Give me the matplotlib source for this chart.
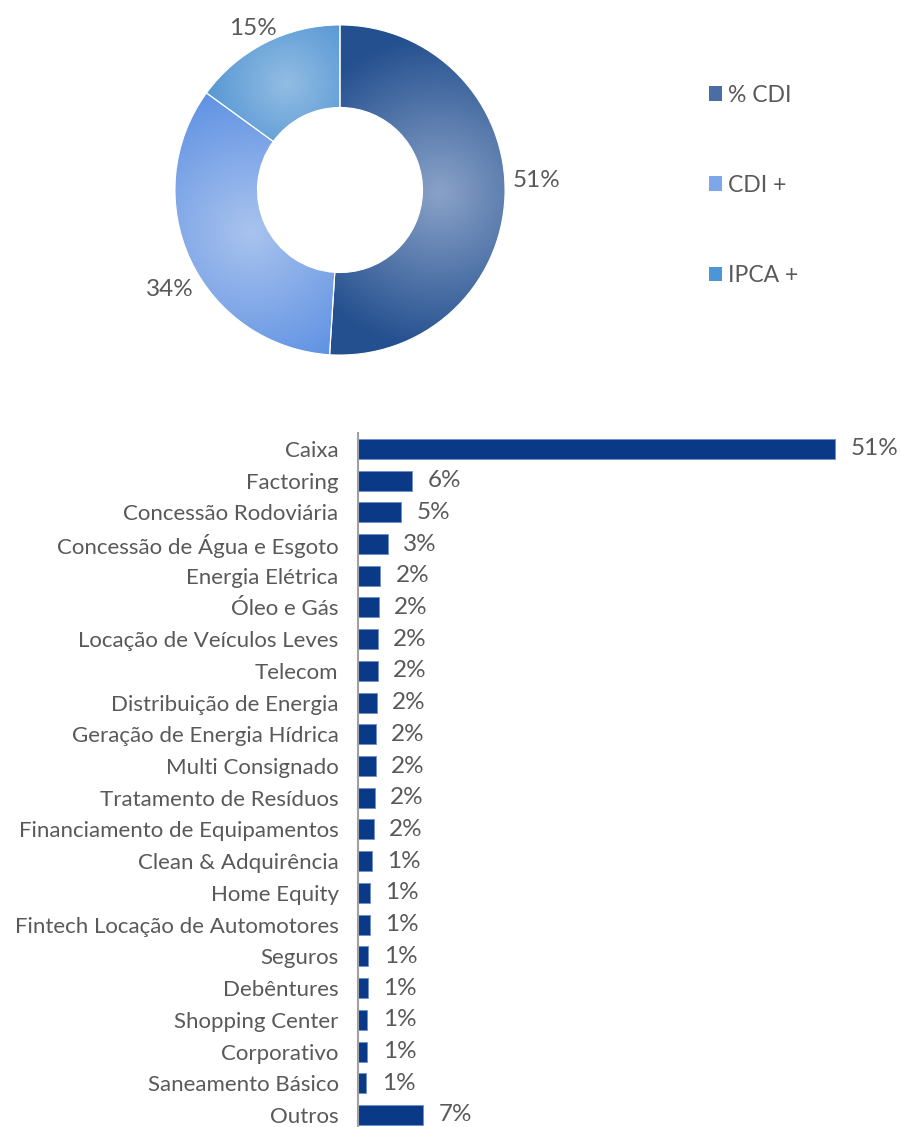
import numpy as np
import matplotlib
matplotlib.use('Agg')
import matplotlib.pyplot as plt
from matplotlib.patches import Patch
from matplotlib.colors import to_rgb

plt.rcParams['font.family'] = ['Lato', 'DejaVu Sans']

# donut data
indexador = ['% CDI', 'CDI +', 'IPCA +']
indexador_pct = [51, 34, 15]
# radial gradient colours per slice (centre, edge)
grad_in = ['#8AA2C8', '#A9C3EE', '#92BDE3']
grad_out = ['#24508F', '#5A8EE2', '#1F74C6']

# bar data (share of portfolio, %)
setores = ['Caixa', 'Factoring', 'Concessão Rodoviária', 'Concessão de Água e Esgoto',
           'Energia Elétrica', 'Óleo e Gás', 'Locação de Veículos Leves', 'Telecom',
           'Distribuição de Energia', 'Geração de Energia Hídrica', 'Multi Consignado',
           'Tratamento de Resíduos', 'Financiamento de Equipamentos', 'Clean & Adquirência',
           'Home Equity', 'Fintech Locação de Automotores', 'Seguros', 'Debêntures',
           'Shopping Center', 'Corporativo', 'Saneamento Básico', 'Outros']
setores_pct = [51.0, 5.8, 4.6, 3.2, 2.4, 2.2, 2.1, 2.1, 2.0, 1.9, 1.9, 1.8, 1.7,
               1.45, 1.3, 1.25, 1.1, 1.05, 1.0, 1.0, 0.9, 7.0]

W, H = 900, 1127
fig = plt.figure(figsize=(W / 100, H / 100), dpi=100)
grey = '#595959'

# ---- donut ----
cx, cy, half = 340, 190, 170
ax = fig.add_axes([(cx - half) / W, (H - cy - half) / H, 2 * half / W, 2 * half / H])
wedges, _ = ax.pie(indexador_pct, startangle=90, counterclock=False, radius=1,
                   wedgeprops=dict(width=0.5, edgecolor='white', linewidth=0.8))
ax.set_xlim(-1.03, 1.03)
ax.set_ylim(-1.03, 1.03)
ax.set_aspect('equal')
ax.axis('off')

n = 400
xs = np.linspace(-1, 1, n)
X, Y = np.meshgrid(xs, xs[::-1])
spot_r = [0.6, 0.6, 0.72]
for w, c0, c1, r in zip(wedges, grad_in, grad_out, spot_r):
    mid = np.deg2rad((w.theta1 + w.theta2) / 2)
    gx, gy = r * np.cos(mid), r * np.sin(mid)
    d = np.clip(np.hypot(X - gx, Y - gy) / 0.95, 0, 1)[..., None]
    img = np.array(to_rgb(c0)) * (1 - d) + np.array(to_rgb(c1)) * d
    w.set_facecolor('none')
    im = ax.imshow(img, extent=(-1, 1, -1, 1), zorder=0.5)
    im.set_clip_path(w)

lbl_pos = [(1.19, 0.06), (-1.03, -0.60), (-0.53, 0.98)]
for (x, y), v in zip(lbl_pos, indexador_pct):
    ax.text(x, y, f'{v}%', ha='center', va='center', fontsize=17.5, color=grey)

handles = [Patch(facecolor=c, edgecolor='none') for c in ['#4A6DA6', '#7EA6EA', '#4C95D6']]
fig.legend(handles, indexador, loc='upper left', bbox_to_anchor=(688 / W, 1 - 64 / H),
           frameon=False, fontsize=16.5, labelcolor=grey, handlelength=0.6,
           handleheight=0.6, handletextpad=0.25, labelspacing=3.02)

# ---- bars ----
left, right = 358, 880
px_per = (835 - 358) / 51.0
bx = fig.add_axes([left / W, 0, (right - left) / W, (1127 - 433) / H])
y = np.arange(len(setores))
bx.barh(y, setores_pct, height=0.63, color='#0A3A87', edgecolor='#6E8FC8', linewidth=0.6)
bx.set_xlim(0, (right - left) / px_per)
bx.set_ylim(len(setores) - 1 + 0.38, -0.5)
bx.set_yticks(y)
bx.set_yticklabels(setores, fontsize=16, color=grey)
bx.tick_params(axis='y', length=0, pad=14)
bx.set_xticks([])
for s in ['top', 'right', 'bottom']:
    bx.spines[s].set_visible(False)
bx.spines['left'].set_color('#A0A0A0')
bx.spines['left'].set_linewidth(1.5)
for yi, v in zip(y, setores_pct):
    bx.annotate(f'{v:.0f}%', (v, yi), xytext=(11, 0), textcoords='offset points',
                ha='left', va='center', fontsize=17.5, color=grey)

fig.savefig('out.png', dpi=100)
